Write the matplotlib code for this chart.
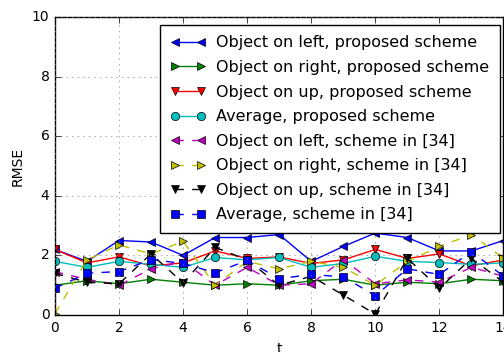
import matplotlib
matplotlib.use('Agg')
import matplotlib.pyplot as plt
import numpy as np

t = np.arange(15)

left_prop = [2.2, 1.8, 2.5, 2.45, 2.0, 2.6, 2.6, 2.7, 1.8, 2.3, 2.75, 2.6, 2.15, 2.15, 2.5]
right_prop = [1.0, 1.15, 1.05, 1.2, 1.1, 1.0, 1.05, 1.0, 1.15, 1.2, 1.0, 1.1, 1.05, 1.2, 1.15]
up_prop = [2.2, 1.75, 1.95, 1.65, 1.75, 2.15, 1.9, 1.95, 1.73, 1.85, 2.2, 1.9, 2.05, 1.65, 1.85]
avg_prop = [1.8, 1.6, 1.8, 1.7, 1.6, 1.93, 1.85, 1.93, 1.6, 1.73, 1.97, 1.8, 1.76, 1.7, 1.75]

left_34 = [1.45, 1.2, 1.0, 1.55, 1.8, 1.0, 1.6, 1.0, 1.05, 1.86, 1.05, 1.18, 1.1, 1.6, 1.3]
right_34 = [0.05, 1.85, 2.35, 2.05, 2.47, 1.0, 1.8, 1.55, 1.8, 1.6, 1.0, 1.8, 2.3, 2.7, 1.9]
up_34 = [1.4, 1.1, 1.05, 2.05, 1.08, 2.27, 1.85, 1.0, 1.3, 0.67, 0.03, 1.9, 0.9, 1.9, 1.1]
avg_34 = [0.9, 1.4, 1.46, 1.86, 1.73, 1.42, 1.83, 1.22, 1.36, 1.28, 0.65, 1.55, 1.36, 2.13, 1.3]

plt.style.use('classic')
fig = plt.figure(figsize=(5.04, 3.52), dpi=100)
ax = fig.add_axes([0.109, 0.105, 0.89, 0.847])

ax.plot(t, left_prop, 'b-<', label='Object on left, proposed scheme')
ax.plot(t, right_prop, 'g->', label='Object on right, proposed scheme')
ax.plot(t, up_prop, 'r-v', label='Object on up, proposed scheme')
ax.plot(t, avg_prop, 'c-o', label='Average, proposed scheme')
ax.plot(t, left_34, 'm--<', label='Object on left, scheme in [34]')
ax.plot(t, right_34, 'y-->', label='Object on right, scheme in [34]')
ax.plot(t, up_34, 'k--v', label='Object on up, scheme in [34]')
ax.plot(t, avg_34, 'b--s', label='Average, scheme in [34]')

ax.set_xlim(0, 14)
ax.set_ylim(0, 10)
ax.set_xticks(np.arange(0, 15, 2))
ax.set_yticks(np.arange(0, 11, 2))
ax.grid(True, color='#808080')
ax.set_xlabel('t', fontsize=10)
ax.set_ylabel('RMSE', fontsize=10)
ax.tick_params(labelsize=10)
ax.legend(loc='upper right', fontsize=11.5, numpoints=2,
          bbox_to_anchor=(500 / 504, 327 / 352), bbox_transform=fig.transFigure,
          borderaxespad=0, borderpad=0.65, handlelength=2.2,
          handletextpad=0.7, labelspacing=0.6)

fig.savefig('out.png', dpi=100)
